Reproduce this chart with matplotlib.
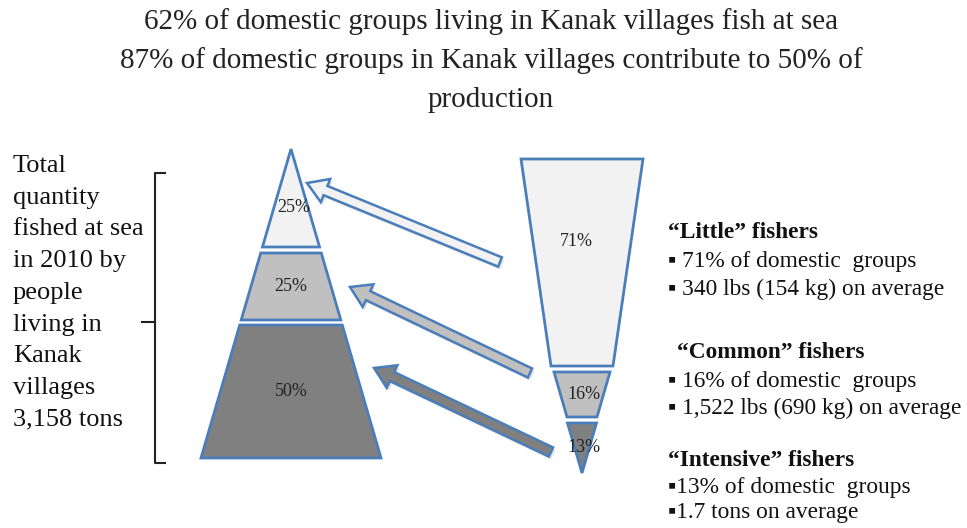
import matplotlib
matplotlib.use("Agg")
import matplotlib.pyplot as plt
from matplotlib.patches import Polygon, FancyArrow

# --- data ---
title_lines = [
    "62% of domestic groups living in Kanak villages fish at sea",
    "87% of domestic groups in Kanak villages contribute to 50% of",
    "production",
]
total_label = ["Total", "quantity", "fished at sea", "in 2010 by", "people",
               "living in", "Kanak", "villages", "3,158 tons"]
prod_share = [25, 25, 50]      # pyramid, top -> bottom
group_share = [71, 16, 13]     # funnel, top -> bottom
group_names = ["\u201cLittle\u201d fishers", "\u201cCommon\u201d fishers", "\u201cIntensive\u201d fishers"]
group_details = [
    ["\u25aa 71% of domestic  groups", "\u25aa 340 lbs (154 kg) on average"],
    ["\u25aa 16% of domestic  groups", "\u25aa 1,522 lbs (690 kg) on average"],
    ["\u25aa13% of domestic  groups", "\u25aa1.7 tons on average"],
]

fills = ["#f2f2f2", "#c0c0c0", "#808080"]
edge = "#4a7ebb"
serif = ["Liberation Serif", "DejaVu Serif"]

# --- layout (pixel coordinates) ---
pyr_cx, pyr_top, pyr_bot, pyr_half = 291, 149, 458, 90
pyr_bands = [(149, 247), (253, 320), (325, 458)]
fun_cx = 582
fun_bands = [(159, 366, 61, 31), (372, 417, 28, 15), (423, 473, 14.5, 0)]
arrows = [(500, 262, 307, 183), (530, 373, 350, 287), (551, 452, 374, 368)]

fig = plt.figure(figsize=(9.67, 5.28), dpi=100)
ax = fig.add_axes([0, 0, 1, 1])
ax.set_xlim(0, 967)
ax.set_ylim(528, 0)
ax.axis("off")


def pyr_halfwidth(y):
    return pyr_half * (y - pyr_top) / (pyr_bot - pyr_top)


for (y0, y1), share, c in zip(pyr_bands, prod_share, fills):
    w0, w1 = pyr_halfwidth(y0), pyr_halfwidth(y1)
    pts = [(pyr_cx - w0, y0), (pyr_cx + w0, y0), (pyr_cx + w1, y1), (pyr_cx - w1, y1)]
    ax.add_patch(Polygon(pts, closed=True, fc=c, ec=edge, lw=2, zorder=2))
    ym = (y0 + y1) / 2 if y0 > pyr_top else y0 + (y1 - y0) * 0.6
    ax.text(pyr_cx + (3 if y0 == pyr_top else 0), ym, f"{share}%", ha="center", va="center",
            fontsize=13, family=serif, color="#222222", zorder=5)

for (y0, y1, w0, w1), share, c in zip(fun_bands, group_share, fills):
    pts = [(fun_cx - w0, y0), (fun_cx + w0, y0), (fun_cx + w1, y1), (fun_cx - w1, y1)]
    ax.add_patch(Polygon(pts, closed=True, fc=c, ec=edge, lw=2, zorder=2))
    ym = y0 + (y1 - y0) * (0.4 if share > 50 else 0.5)
    ax.text(fun_cx - 6 if share > 50 else fun_cx + 2, ym, f"{share}%", ha="center", va="center",
            fontsize=13, family=serif, color="#222222", zorder=5)

for (x0, y0, x1, y1), c in zip(arrows, fills):
    dx, dy = x1 - x0, y1 - y0
    # faint shadow
    ax.add_patch(FancyArrow(x0 + 2, y0 + 3, dx, dy, width=10, head_width=25, head_length=20,
                            length_includes_head=True, fc="#d0d0d0", ec="none", alpha=0.6, zorder=1))
    ax.add_patch(FancyArrow(x0, y0, dx, dy, width=10, head_width=25, head_length=20,
                            length_includes_head=True, fc=c, ec=edge, lw=1.8, zorder=3))

# title
for i, line in enumerate(title_lines):
    ax.text(491, 22 + i * 39, line, ha="center", va="center", fontsize=21, family=serif, color="#222222")

# left label and bracket
for i, line in enumerate(total_label):
    ax.text(13, 172 + i * 31.7, line, ha="left", va="baseline", fontsize=19, family=serif,
            color="#111111")
ax.plot([165, 155, 155, 165], [173, 173, 463, 463], color="#222222", lw=1.5)
ax.plot([142, 155], [322, 322], color="#222222", lw=1.5)

# right hand notes
head_y = [233, 352, 460]
head_x = [668, 677, 668]
pitch = [27.5, 27.5, 25.5]
for name, details, hy, hx, p in zip(group_names, group_details, head_y, head_x, pitch):
    ax.text(hx, hy, name, ha="left", va="center", fontsize=16.8, family=serif,
            fontweight="bold", color="#111111")
    for j, d in enumerate(details):
        ax.text(668, hy + p + 1.5 + j * p, d, ha="left", va="center", fontsize=16.8,
                family=serif, color="#111111")

fig.savefig("out.png", dpi=100)
